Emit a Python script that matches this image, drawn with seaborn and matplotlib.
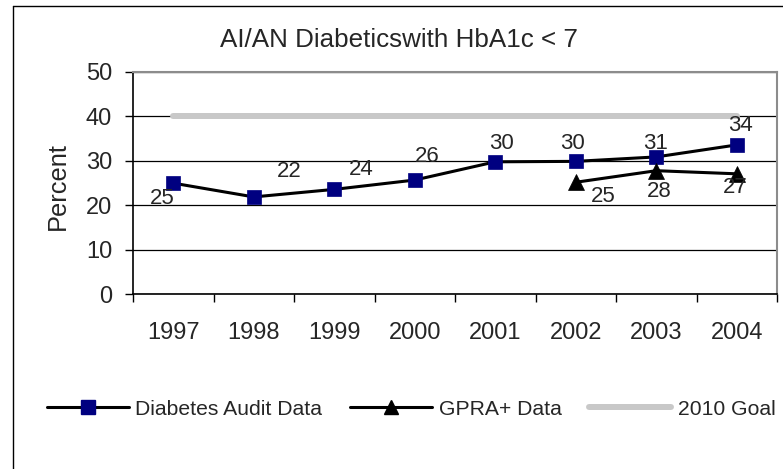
import matplotlib
matplotlib.use('Agg')
import matplotlib.pyplot as plt
import seaborn as sns
import pandas as pd
from matplotlib.lines import Line2D

# ---- data ----
years = ['1997', '1998', '1999', '2000', '2001', '2002', '2003', '2004']
audit = [25.0, 21.9, 23.6, 25.7, 29.8, 29.9, 30.9, 33.6]
audit_labels = [25, 22, 24, 26, 30, 30, 31, 34]
gpra_years = ['2002', '2003', '2004']
gpra = [25.2, 27.8, 27.1]
gpra_labels = [25, 28, 27]
goal = [40, 40, 40, 40, 40, 40, 40, 40]
series_names = ['Diabetes Audit Data', 'GPRA+ Data', '2010 Goal']
title = 'AI/AN Diabeticswith HbA1c < 7'
ylabel = 'Percent'

sns.set_style('white')
plt.rcParams['font.family'] = ['Liberation Sans', 'DejaVu Sans']

W, H = 783, 469
fig = plt.figure(figsize=(W / 100, H / 100), dpi=100)
ax = fig.add_axes([133 / W, 1 - 294.3 / H, 644 / W, 222.3 / H])

df_goal = pd.DataFrame({'year': years, 'value': goal})
df_audit = pd.DataFrame({'year': years, 'value': audit})
df_gpra = pd.DataFrame({'year': gpra_years, 'value': gpra})

NAVY = '#000080'
GOALC = '#c8c8c8'

sns.lineplot(data=df_goal, x='year', y='value', ax=ax, sort=False,
             color=GOALC, linewidth=4.3, zorder=2)
sns.lineplot(data=df_audit, x='year', y='value', ax=ax, sort=False,
             color='black', linewidth=2.2, marker='s', markersize=10,
             markerfacecolor=NAVY, markeredgecolor=NAVY, markeredgewidth=0.5, zorder=3)
sns.lineplot(data=df_gpra, x='year', y='value', ax=ax, sort=False,
             color='black', linewidth=2.2, marker='^', markersize=11.5,
             markerfacecolor='black', markeredgecolor='black', markeredgewidth=0.5, zorder=3)

ax.set_xlim(-0.5, len(years) - 0.5)
ax.set_ylim(0, 50)
ax.set_yticks(range(0, 51, 10))
ax.set_xticks(range(len(years)))
ax.set_xticklabels(years)
ax.set_xticks([i - 0.5 for i in range(len(years) + 1)], minor=True)

ax.yaxis.grid(True, color='black', linewidth=0.9)
ax.xaxis.grid(False)
ax.set_axisbelow(True)

for s in ['left', 'bottom']:
    ax.spines[s].set_color('black')
    ax.spines[s].set_linewidth(1.2)
for s in ['top', 'right']:
    ax.spines[s].set_color('#8c8c8c')
    ax.spines[s].set_linewidth(1.5)

ax.tick_params(axis='y', which='major', left=True, length=6, width=1, color='black',
               pad=9, labelsize=17)
ax.tick_params(axis='x', which='major', bottom=True, length=0, pad=20, labelsize=17)
ax.tick_params(axis='x', which='minor', bottom=True, length=6, width=1, color='black')

ax.set_xlabel('')
ax.set_ylabel(ylabel, fontsize=18.3, va='center')
ax.yaxis.set_label_coords((58 - 133) / 644, (294.3 - 186) / 222.3)

# data labels (offsets in pixels: dx right, dy up)
audit_off = [(-11, -15), (35, 25), (27, 20), (12, 24), (6, 18), (-3, 18), (-1, 13), (4, 19)]
for i, (v, lab, (dx, dy)) in enumerate(zip(audit, audit_labels, audit_off)):
    ax.annotate(str(lab), xy=(i, v), xytext=(dx * 0.72, dy * 0.72),
                textcoords='offset points', ha='center', va='center', fontsize=16, zorder=5)
gpra_off = [(28, -14), (3, -21), (-2, -14)]
for yr, v, lab, (dx, dy) in zip(gpra_years, gpra, gpra_labels, gpra_off):
    ax.annotate(str(lab), xy=(years.index(yr), v), xytext=(dx * 0.72, dy * 0.72),
                textcoords='offset points', ha='center', va='center', fontsize=16, zorder=5)

leg = ax.get_legend()
if leg is not None:
    leg.remove()

fig.text(399 / W, 1 - 40 / H, title, ha='center', va='center', fontsize=18.7)

handles = [
    Line2D([], [], color='black', linewidth=2.2, marker='s', markersize=10.5,
           markerfacecolor=NAVY, markeredgecolor=NAVY),
    Line2D([], [], color='black', linewidth=2.2, marker='^', markersize=9.5,
           markerfacecolor='black', markeredgecolor='black'),
    Line2D([], [], color=GOALC, linewidth=4.3),
]
fig.legend(handles, series_names, loc='center', bbox_to_anchor=(411 / W, 1 - 409 / H),
           ncol=3, frameon=False, fontsize=15.2, handlelength=3.9, handletextpad=0.3,
           columnspacing=1.3, borderaxespad=0, borderpad=0)

# outer chart border (clipped at right and bottom)
fig.add_artist(Line2D([12.5 / W, 1], [1 - 6 / H, 1 - 6 / H], transform=fig.transFigure,
                      color='black', linewidth=1))
fig.add_artist(Line2D([12.5 / W, 12.5 / W], [1 - 6 / H, 0], transform=fig.transFigure,
                      color='black', linewidth=1))

fig.savefig('out.png', dpi=100)
